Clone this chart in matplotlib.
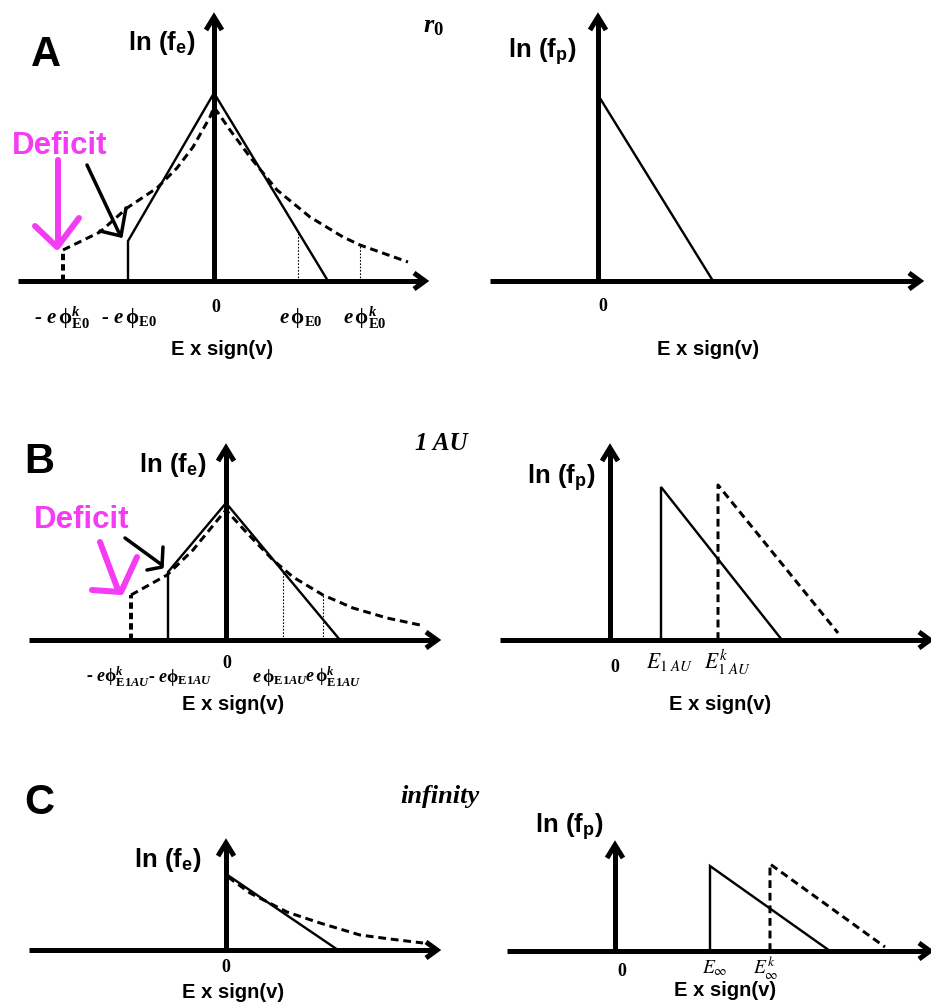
import matplotlib
matplotlib.use("Agg")
import matplotlib.pyplot as plt

W, H, DPI = 931, 1007, 100

plt.rcParams.update({
    "mathtext.fontset": "custom",
    "mathtext.rm": "Liberation Serif:bold",
    "mathtext.it": "Liberation Serif:bold:italic",
    "mathtext.bf": "Liberation Serif:bold",
    "mathtext.sf": "Liberation Sans:bold",
})

INK = "black"
PINK = "#F53CF5"
PX = 72.0 / DPI          # points per pixel

# ---------------------------------------------------------------------------
# Schematic distributions: x = E x sign(v), y = ln f (drawing units)
# ---------------------------------------------------------------------------
# Row A: r0
A_e_xaxis = [-196, 211]
A_e_ytop = 264
A_e_solid_E = [-86, -86, 0, 114]
A_e_solid_L = [0, 40, 188, 0]
A_e_kappa_E = [-151, -114, -87, -57, -37, -21, -4, 0, 16, 36, 63, 96, 129, 146, 194]
A_e_kappa_L = [31, 49, 73, 93, 113, 134, 164, 174, 151, 124, 91, 64, 44, 36, 19]
A_e_deficit_E, A_e_deficit_L = -151, 31
A_e_dotted_E = [84, 146]
A_e_dotted_L = [48, 36]
A_e_tick_E = [-152, -85, 2, 87, 151]
A_e_tick_labels = [r"- $\mathit{e}\,\mathrm{\phi}^{\mathit{k}}_{\mathrm{E}\mathit{0}}$",
                   r"- $\mathit{e}\,\mathrm{\phi}_{\mathrm{E}\mathit{0}}$",
                   "0",
                   r"$\mathit{e}\,\mathrm{\phi}_{\mathrm{E}\mathit{0}}$",
                   r"$\mathit{e}\,\mathrm{\phi}^{\mathit{k}}_{\mathrm{E}\mathit{0}}$"]

A_p_xaxis = [-108, 322]
A_p_ytop = 264
A_p_solid_E = [0, 115]
A_p_solid_L = [186, 0]

# Row B: 1 AU
B_e_xaxis = [-197, 211]
B_e_ytop = 192
B_e_solid_E = [-58, -58, 0, 114]
B_e_solid_L = [0, 68, 137, 0]
B_e_kappa_E = [-95, -59, -33, -6, 0, 21, 47, 67, 97, 127, 161, 194]
B_e_kappa_L = [45, 65, 90, 123, 130, 107, 80, 63, 45, 32, 22, 15]
B_e_deficit_E, B_e_deficit_L = -95, 45
B_e_dotted_E = [57, 97]
B_e_dotted_L = [68, 45]
B_e_tick_E = [-108, -46, 1, 54, 107]
B_e_tick_labels = [r"- $\mathit{e}\mathrm{\phi}^{\mathit{k}}_{\mathrm{E}\mathit{1AU}}$",
                   r"- $\mathit{e}\mathrm{\phi}_{\mathrm{E}\mathit{1AU}}$",
                   "0",
                   r"$\mathit{e}\,\mathrm{\phi}_{\mathrm{E}\mathit{1AU}}$",
                   r"$\mathit{e}\,\mathrm{\phi}^{\mathit{k}}_{\mathrm{E}\mathit{1AU}}$"]

B_p_xaxis = [-110, 320]
B_p_ytop = 192
B_p_solid_E = [51, 51, 172]
B_p_solid_L = [0, 153, 0]
B_p_kappa_E = [108, 108, 228]
B_p_kappa_L = [0, 155, 7]
B_p_tick_E = [5, 59, 117]
B_p_tick_labels = ["0", r"$\mathit{E}_{\mathit{1\ AU}}$", r"$\mathit{E}^{\mathit{k}}_{\mathit{1\ AU}}$"]

# Row C: infinity
C_e_xaxis = [-197, 211]
C_e_ytop = 107
C_e_solid_E = [0, 112]
C_e_solid_L = [76, 0]
C_e_kappa_E = [2, 24, 61, 94, 134, 164, 197]
C_e_kappa_L = [73, 57, 38, 27, 15, 11, 7]

C_p_xaxis = [-108, 315]
C_p_ytop = 106
C_p_solid_E = [95, 95, 215]
C_p_solid_L = [0, 85, 0]
C_p_kappa_E = [155, 155, 270]
C_p_kappa_L = [0, 87, 4]
C_p_tick_E = [7, 100, 151]
C_p_tick_labels = ["0", r"$E_{\infty}$", r"$E^{k}_{\infty}$"]

# hand-drawn "Deficit" arrows (magenta) and pointer arrows (black)
A_pink_strokes = [([-156, -156], [121, 38]), ([-179, -157], [55, 34]), ([-135, -156], [63, 35])]
A_black_strokes = [([-127, -94], [116, 46]), ([-114, -93], [50, 45]), ([-88, -93], [73, 45])]
B_pink_strokes = [([-126, -108], [98, 50]), ([-134, -106], [50, 48]), ([-89, -105], [83, 48])]
B_black_strokes = [([-101, -64], [102, 75]), ([-79, -64], [70, 73]), ([-63, -64], [93, 74])]

# line styles
AX_LW = 5 * PX
SOLID_LW = 2.4 * PX
DASH_LW = 3 * PX
DASH = (0, (2.6, 1.6))

fig = plt.figure(figsize=(W / DPI, H / DPI), dpi=DPI)
fig.patch.set_facecolor("white")


def panel(box, origin):
    x0, y0, x1, y1 = box
    ox, oy = origin
    ax = fig.add_axes([x0 / W, 1 - y1 / H, (x1 - x0) / W, (y1 - y0) / H])
    ax.set_xlim(x0 - ox, x1 - ox)
    ax.set_ylim(oy - y1, oy - y0)
    ax.axis("off")
    return ax


def frame(ax, xaxis, ytop):
    lo, hi = xaxis
    ax.plot([lo, hi - 3], [0, 0], color=INK, lw=AX_LW, solid_capstyle="butt", clip_on=False)
    ax.plot([0, 0], [0, ytop - 3], color=INK, lw=AX_LW, solid_capstyle="butt", clip_on=False)
    ax.plot([hi - 11, hi, hi - 11], [8, 0, -8], color=INK, lw=AX_LW,
            solid_joinstyle="miter", solid_capstyle="butt", clip_on=False)
    ax.plot([-8, 0, 8], [ytop - 13, ytop, ytop - 13], color=INK, lw=AX_LW,
            solid_joinstyle="miter", solid_capstyle="butt", clip_on=False)


def solid(ax, E, L):
    ax.plot(E, L, color=INK, lw=SOLID_LW, solid_joinstyle="miter", clip_on=False)


def dashed(ax, E, L, lw=DASH_LW):
    ax.plot(E, L, color=INK, lw=lw, ls=DASH, clip_on=False)


def strokes(ax, items, color, lw):
    for xs, ys in items:
        ax.plot(xs, ys, color=color, lw=lw, solid_capstyle="round", clip_on=False)


def ylabel(ax, x, y, sub):
    ax.text(x, y, "ln (f$_\\mathsf{%s}$)" % sub, ha="center", va="center",
            family="Liberation Sans", weight="bold", fontsize=18.5)


def xlabel(ax, x, y):
    ax.text(x, y, "E x sign(v)", ha="center", va="center",
            family="Liberation Sans", weight="bold", fontsize=14.5)


def letter(ax, x, y, s):
    ax.text(x, y, s, ha="center", va="center", family="Liberation Sans",
            weight="bold", fontsize=30)


def zero(ax, x, y):
    ax.text(x, y, "0", ha="center", va="center", family="Liberation Serif",
            weight="bold", fontsize=13)


def ticks(ax, xs, y, labels, size):
    for x, s in zip(xs, labels):
        if s == "0":
            continue
        ax.text(x, y, s, ha="center", va="center", family="Liberation Serif",
                weight="bold", style="italic", fontsize=size)


def deficit(ax, x, y):
    ax.text(x, y, "Deficit", ha="center", va="center", family="Liberation Sans",
            weight="bold", fontsize=22.5, color=PINK)


def place(ax, x, y, s, size=18):
    ax.text(x, y, s, ha="center", va="center", family="Liberation Serif",
            weight="bold", style="italic", fontsize=size)


# ---------------- Row A ----------------
ax = panel((0, 0, 465, 400), (214, 281))
frame(ax, A_e_xaxis, A_e_ytop)
solid(ax, A_e_solid_E, A_e_solid_L)
dashed(ax, A_e_kappa_E, A_e_kappa_L)
ax.plot([A_e_deficit_E] * 2, [0, A_e_deficit_L], color=INK, lw=4 * PX, ls=(0, (1.6, 1.0)))
for e, l in zip(A_e_dotted_E, A_e_dotted_L):
    ax.plot([e, e], [0, l], color=INK, lw=1.1 * PX, ls=(0, (1.5, 1.5)))
strokes(ax, A_pink_strokes, PINK, 6 * PX)
strokes(ax, A_black_strokes, INK, 3.5 * PX)
deficit(ax, -154, 135)
letter(ax, -168, 226, "A")
ylabel(ax, -52, 238, "e")
ax.text(219, 256, r"$\mathit{r}_{\mathit{0}}$", ha="center", va="center", fontsize=19)
ticks(ax, A_e_tick_E, -37, A_e_tick_labels, 15)
zero(ax, A_e_tick_E[2], -27)
xlabel(ax, 8, -69)

ax = panel((465, 0, 931, 400), (598, 281))
frame(ax, A_p_xaxis, A_p_ytop)
solid(ax, A_p_solid_E, A_p_solid_L)
ylabel(ax, -56, 229, "p")
zero(ax, 5, -26)
xlabel(ax, 110, -69)

# ---------------- Row B ----------------
ax = panel((0, 400, 465, 760), (226, 640))
frame(ax, B_e_xaxis, B_e_ytop)
solid(ax, B_e_solid_E, B_e_solid_L)
dashed(ax, B_e_kappa_E, B_e_kappa_L)
ax.plot([B_e_deficit_E] * 2, [0, B_e_deficit_L], color=INK, lw=4 * PX, ls=(0, (1.6, 1.0)))
for e, l in zip(B_e_dotted_E, B_e_dotted_L):
    ax.plot([e, e], [0, l], color=INK, lw=1.1 * PX, ls=(0, (1.5, 1.5)))
strokes(ax, B_pink_strokes, PINK, 6 * PX)
strokes(ax, B_black_strokes, INK, 3.5 * PX)
deficit(ax, -144, 120)
letter(ax, -187, 178, "B")
ylabel(ax, -53, 175, "e")
place(ax, 215, 197, "1 AU")
ticks(ax, B_e_tick_E, -37, B_e_tick_labels, 13)
zero(ax, B_e_tick_E[2], -23)
xlabel(ax, 7, -65)

ax = panel((465, 400, 931, 760), (610, 640))
frame(ax, B_p_xaxis, B_p_ytop)
solid(ax, B_p_solid_E, B_p_solid_L)
dashed(ax, B_p_kappa_E, B_p_kappa_L)
ylabel(ax, -49, 162, "p")
zero(ax, B_p_tick_E[0], -28)
for x, s in zip(B_p_tick_E[1:], B_p_tick_labels[1:]):
    ax.text(x, -22, s, ha="center", va="center", fontsize=15.5, math_fontfamily="stix")
xlabel(ax, 110, -65)

# ---------------- Row C ----------------
ax = panel((0, 760, 465, 1007), (226, 950))
frame(ax, C_e_xaxis, C_e_ytop)
solid(ax, C_e_solid_E, C_e_solid_L)
dashed(ax, C_e_kappa_E, C_e_kappa_L)
letter(ax, -187, 147, "C")
ylabel(ax, -58, 90, "e")
place(ax, 214, 153, "infinity", size=19)
zero(ax, 0, -17)
xlabel(ax, 7, -43)

ax = panel((465, 760, 931, 1007), (615, 951))
frame(ax, C_p_xaxis, C_p_ytop)
solid(ax, C_p_solid_E, C_p_solid_L)
dashed(ax, C_p_kappa_E, C_p_kappa_L)
ylabel(ax, -46, 124, "p")
zero(ax, C_p_tick_E[0], -21)
for x, s in zip(C_p_tick_E[1:], C_p_tick_labels[1:]):
    ax.text(x, -17, s, ha="center", va="center", fontsize=14, math_fontfamily="stix")
xlabel(ax, 110, -40)

fig.savefig("out.png", dpi=DPI, facecolor="white")
